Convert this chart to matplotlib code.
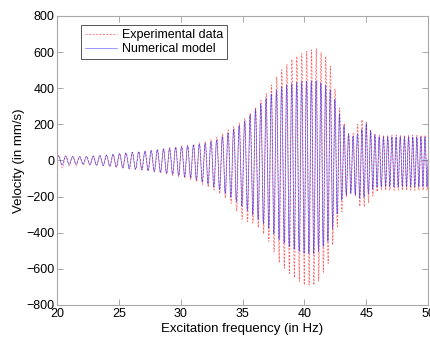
import numpy as np
import matplotlib
matplotlib.use("Agg")
import matplotlib.pyplot as plt

plt.rcParams["font.family"] = ["Liberation Sans", "DejaVu Sans"]

# envelope knots (Hz)
knot_hz = [20, 21, 22, 23, 24, 25, 26, 27, 28, 29, 30, 31, 32, 33, 34, 35,
           36, 37, 38, 39, 40, 41, 42, 42.5, 43, 43.5, 44, 44.5, 45, 45.5,
           46, 47, 48, 49, 50]

# experimental data: positive / negative peak envelope (mm/s)
exp_upper = [30, 25, 22, 25, 30, 38, 45, 52, 60, 70, 80, 90, 105, 130, 175, 220,
             290, 380, 490, 560, 600, 620, 560, 390, 250, 150, 150, 232, 214, 150,
             140, 140, 140, 140, 140]
exp_lower = [50, 30, 25, 25, 30, 40, 48, 55, 65, 78, 92, 110, 140, 175, 230, 330,
             350, 430, 570, 640, 690, 690, 560, 404, 293, 180, 175, 256, 256, 200,
             165, 165, 165, 165, 165]

# numerical model envelope (mm/s)
num_upper = [25, 22, 20, 25, 30, 38, 44, 50, 58, 66, 75, 85, 95, 115, 160, 205,
             280, 350, 405, 425, 440, 440, 405, 334, 223, 150, 131, 158, 205, 150,
             130, 130, 130, 130, 130]
num_lower = [25, 22, 20, 25, 30, 38, 46, 52, 62, 72, 85, 100, 125, 155, 200, 256,
             312, 367, 441, 487, 515, 515, 441, 330, 220, 183, 185, 210, 200, 160,
             145, 145, 145, 145, 145]

# sweep: oscillation cycles per Hz, read from peak spacing
cpf_hz = [20, 23, 33, 37.5, 46, 50]
cycles_per_hz = [1.72, 1.85, 2.16, 2.38, 2.9, 3.05]

x_ticks = [20, 25, 30, 35, 40, 45, 50]
y_ticks = [-800, -600, -400, -200, 0, 200, 400, 600, 800]

# ---------------------------------------------------------------------------
f = np.linspace(20, 50, 12000)
df = f[1] - f[0]
cycles = np.cumsum(np.interp(f, cpf_hz, cycles_per_hz)) * df


def signal(upper, lower, shift):
    c = np.sin(2 * np.pi * (cycles + shift))
    up = np.interp(f, knot_hz, upper)
    lo = np.interp(f, knot_hz, lower)
    return np.where(c > 0, c * up, c * lo)


v_exp = signal(exp_upper, exp_lower, 0.0)
v_num = signal(num_upper, num_lower, 0.04)

fig = plt.figure(figsize=(4.31, 3.39), dpi=100)
ax = fig.add_axes([0.1323, 0.1003, 0.8607, 0.8527])

ax.plot(f, v_exp, color="#ff2020", ls=(0, (3, 2)), lw=0.5, alpha=0.75,
        label="Experimental data")
ax.plot(f, v_num, color="#1010ff", ls="-", lw=0.5, alpha=0.6,
        label="Numerical model")

ax.set_xlim(20, 50)
ax.set_ylim(-800, 800)
ax.set_xticks(x_ticks)
ax.set_yticks(y_ticks)
ax.tick_params(direction="in", length=4, width=0.6, colors="#9a9a9a",
               labelcolor="black", labelsize=9, top=True, right=True, pad=2)
for s in ax.spines.values():
    s.set_color("#a8a8a8")
    s.set_linewidth(0.8)

ax.set_xlabel("Excitation frequency (in Hz)", fontsize=9.5, labelpad=2)
ax.set_ylabel("Velocity (in mm/s)", fontsize=9.5, labelpad=1)

leg = ax.legend(loc="upper left", bbox_to_anchor=(0.065, 0.967), fontsize=9,
                fancybox=False, framealpha=1, edgecolor="#555555",
                handlelength=2.6, handletextpad=0.4, borderpad=0.3,
                labelspacing=0.15, borderaxespad=0)
leg.get_frame().set_linewidth(0.7)

fig.savefig("out.png", dpi=100)
